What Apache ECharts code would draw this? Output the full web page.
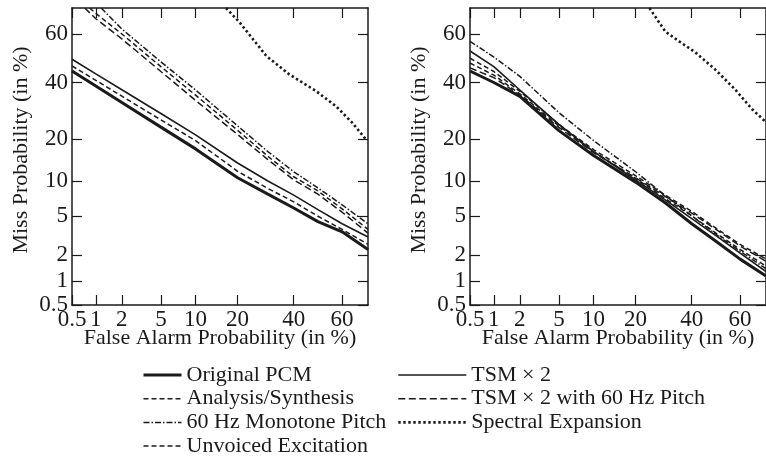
<!DOCTYPE html>
<html>
<head>
<meta charset="utf-8">
<title>DET curves</title>
<script src="https://cdn.jsdelivr.net/npm/echarts@6/dist/echarts.min.js"></script>
<style>
  html, body { margin: 0; padding: 0; background: #fff; }
  #main { width: 766px; height: 458px; }
</style>
</head>
<body>
<div id="main"></div>
<script>
  // axis ticks (in %)
  const TICKS = [0.5, 1, 2, 5, 10, 20, 40, 60]
  const AXIS_MIN = 0.5
  const AXIS_MAX = 70

  // false alarm probabilities (in %) shared by most curves
  const FA = [0.5, 1, 2, 5, 10, 20, 30, 40, 50, 60, 70]

  // left panel
  const leftOriginalPCM = [44.7, 38.6, 32.2, 23.6, 17.2, 10.6, 7.8, 5.9, 4.4, 3.5, 2.3]
  const leftAnalysisSynthesis = [46.8, 40.9, 34.6, 26, 19.5, 11.9, 8.7, 6.7, 4.95, 3.7, 2.6]
  const leftTSM2 = [49.6, 43.5, 37.1, 28.2, 21.2, 13.7, 10, 7.65, 5.7, 4.2, 3.1]
  const leftMonotoneFA = [1.16, 2, 5, 10, 20, 30, 40, 50, 60, 70]
  const leftMonotone = [70, 62, 48.5, 37, 24, 16.5, 11.8, 8.8, 6.3, 4.2]
  const leftUnvoicedFA = [0.84, 1, 2, 5, 10, 20, 30, 40, 50, 60, 70]
  const leftUnvoiced = [70, 68, 60, 46.5, 35, 22.6, 15.3, 10.8, 8.3, 5.8, 3.7]
  const leftTSM60FA = [0.73, 1, 2, 5, 10, 20, 30, 40, 50, 60, 70]
  const leftTSM60 = [70, 66, 58, 44.5, 33, 21.3, 14.5, 10.2, 7.8, 5.4, 3.4]
  const leftSpectralFA = [16.8, 20.6, 29.4, 38.2, 49.2, 57.4, 64.1, 69.6]
  const leftSpectral = [70, 64.6, 51, 43.3, 36.6, 30.9, 25, 19.5]

  // right panel
  const rightOriginalPCM = [44.7, 40, 34.5, 22.5, 15.5, 9.8, 6.5, 4.2, 2.8, 1.8, 1.15]
  const rightAnalysisSynthesis = [48, 43, 35.5, 24, 16.5, 10.5, 7.1, 5.0, 3.4, 2.3, 1.5]
  const rightMonotone = [57, 50.5, 42.5, 28.5, 19.5, 11.8, 7.5, 5.0, 3.3, 2.2, 1.4]
  const rightUnvoiced = [50, 44.5, 36.5, 24.5, 17, 11, 7.6, 5.5, 3.8, 2.6, 1.8]
  const rightTSM2 = [53, 46.5, 37, 24.5, 16.5, 10.2, 6.9, 4.7, 3.2, 2.1, 1.3]
  const rightTSM60 = [46, 42, 35, 23.5, 16.2, 10.6, 7.4, 5.3, 3.7, 2.5, 1.7]
  const rightSpectralFA = [24.3, 29.8, 35, 41.4, 49.6, 57.9, 64.8, 70]
  const rightSpectral = [70, 61, 57, 52.5, 45.4, 37.3, 29.7, 25.2]

  // inverse normal CDF (Acklam) -> DET plots use normal deviate scale
  function probit(p) {
    const a = [-39.69683028665376, 220.9460984245205, -275.9285104469687, 138.357751867269, -30.66479806614716, 2.506628277459239]
    const b = [-54.47609879822406, 161.5858368580409, -155.6989798598866, 66.80131188771972, -13.28068155288572]
    const c = [-0.007784894002430293, -0.3223964580411365, -2.400758277161838, -2.549732539343734, 4.374664141464968, 2.938163982698783]
    const d = [0.007784695709041462, 0.3224671290700398, 2.445134137142996, 3.754408661907416]
    const pl = 0.02425
    let q, r
    if (p < pl) {
      q = Math.sqrt(-2 * Math.log(p))
      return (((((c[0] * q + c[1]) * q + c[2]) * q + c[3]) * q + c[4]) * q + c[5]) / ((((d[0] * q + d[1]) * q + d[2]) * q + d[3]) * q + 1)
    }
    if (p > 1 - pl) {
      q = Math.sqrt(-2 * Math.log(1 - p))
      return -(((((c[0] * q + c[1]) * q + c[2]) * q + c[3]) * q + c[4]) * q + c[5]) / ((((d[0] * q + d[1]) * q + d[2]) * q + d[3]) * q + 1)
    }
    q = p - 0.5
    r = q * q
    return (((((a[0] * r + a[1]) * r + a[2]) * r + a[3]) * r + a[4]) * r + a[5]) * q / (((((b[0] * r + b[1]) * r + b[2]) * r + b[3]) * r + b[4]) * r + 1)
  }

  const z = (pct) => probit(pct / 100)
  const pairs = (fa, miss) => fa.map((f, i) => [z(f), z(miss[i])])
  const TICK_Z = TICKS.map(z)

  const FONT = 'Liberation Serif'
  const INK = '#1a1a1a'

  const STYLES = {
    'Original PCM': { width: 3, type: 'solid' },
    'Analysis/Synthesis': { width: 1.5, type: [5, 3] },
    '60 Hz Monotone Pitch': { width: 1.5, type: [6, 2, 1.5, 2] },
    'Unvoiced Excitation': { width: 1.5, type: [5, 3] },
    'TSM × 2': { width: 1.6, type: 'solid' },
    'TSM × 2 with 60 Hz Pitch': { width: 1.5, type: [7, 3.5] },
    'Spectral Expansion': { width: 2.6, type: [2.4, 2.6] }
  }

  function line(name, data, idx) {
    return {
      name: name,
      type: 'line',
      xAxisIndex: idx,
      yAxisIndex: idx,
      data: data,
      symbol: 'none',
      clip: true,
      animation: false,
      itemStyle: { color: INK },
      lineStyle: { color: INK, width: STYLES[name].width, type: STYLES[name].type }
    }
  }

  function tickLabel(v) {
    const i = TICK_Z.findIndex((t) => Math.abs(t - v) < 1e-9)
    return i < 0 ? '' : String(TICKS[i])
  }

  function xAxis(grid, top) {
    return {
      type: 'value',
      gridIndex: grid,
      position: top ? 'top' : 'bottom',
      min: z(AXIS_MIN),
      max: z(AXIS_MAX),
      name: top ? '' : 'False Alarm Probability (in %)',
      nameLocation: 'middle',
      nameGap: 22,
      nameMoveOverlap: false,
      nameTextStyle: { fontFamily: FONT, fontSize: 22, color: INK },
      axisLine: { show: true, onZero: false, lineStyle: { color: INK, width: 1.5 } },
      axisTick: { show: true, inside: true, length: 10, customValues: TICK_Z, lineStyle: { color: INK, width: 1.2 } },
      axisLabel: { show: !top, margin: 3, customValues: TICK_Z, formatter: tickLabel, fontFamily: FONT, fontSize: 23, color: INK },
      splitLine: { show: false }
    }
  }

  function yAxis(grid, right) {
    return {
      type: 'value',
      gridIndex: grid,
      position: right ? 'right' : 'left',
      min: z(AXIS_MIN),
      max: z(AXIS_MAX),
      name: right ? '' : 'Miss Probability (in %)',
      nameLocation: 'middle',
      nameGap: 40,
      nameMoveOverlap: false,
      nameTextStyle: { fontFamily: FONT, fontSize: 22, color: INK, padding: [0, 0, 0, 13] },
      axisLine: { show: true, onZero: false, lineStyle: { color: INK, width: 1.5 } },
      axisTick: { show: true, inside: true, length: 10, customValues: TICK_Z, lineStyle: { color: INK, width: 1.2 } },
      axisLabel: { show: !right, margin: 4, customValues: TICK_Z, formatter: tickLabel, fontFamily: FONT, fontSize: 23, color: INK },
      splitLine: { show: false }
    }
  }

  // legend: line samples only, no marker
  const legendBase = {
    orient: 'vertical',
    top: 364,
    height: 100,
    padding: 0,
    itemHeight: 14,
    itemGap: 1.7,
    itemStyle: { color: 'rgba(0,0,0,0)', borderWidth: 0, opacity: 0 },
    textStyle: { fontFamily: FONT, fontSize: 22, color: INK }
  }
  const legendItem = (name) => ({
    name: name,
    lineStyle: { width: STYLES[name].width, type: STYLES[name].type, color: INK }
  })

  const chart = echarts.init(document.getElementById('main'))
  chart.setOption({
    backgroundColor: '#ffffff',
    animation: false,
    grid: [
      { left: 72, top: 8, width: 296, height: 297 },
      { left: 470, top: 8, width: 296, height: 297 }
    ],
    xAxis: [xAxis(0, false), xAxis(0, true), xAxis(1, false), xAxis(1, true)],
    yAxis: [yAxis(0, false), yAxis(0, true), yAxis(1, false), yAxis(1, true)],
    legend: [
      Object.assign({}, legendBase, {
        left: 142,
        itemWidth: 38,
        data: ['Original PCM', 'Analysis/Synthesis', '60 Hz Monotone Pitch', 'Unvoiced Excitation'].map(legendItem)
      }),
      Object.assign({}, legendBase, {
        left: 397,
        itemWidth: 68,
        data: ['TSM × 2', 'TSM × 2 with 60 Hz Pitch', 'Spectral Expansion'].map(legendItem)
      })
    ],
    series: [
      // left panel
      line('Spectral Expansion', pairs(leftSpectralFA, leftSpectral), 0),
      line('60 Hz Monotone Pitch', pairs(leftMonotoneFA, leftMonotone), 0),
      line('Unvoiced Excitation', pairs(leftUnvoicedFA, leftUnvoiced), 0),
      line('TSM × 2 with 60 Hz Pitch', pairs(leftTSM60FA, leftTSM60), 0),
      line('TSM × 2', pairs(FA, leftTSM2), 0),
      line('Analysis/Synthesis', pairs(FA, leftAnalysisSynthesis), 0),
      line('Original PCM', pairs(FA, leftOriginalPCM), 0),
      // right panel
      line('Spectral Expansion', pairs(rightSpectralFA, rightSpectral), 2),
      line('60 Hz Monotone Pitch', pairs(FA, rightMonotone), 2),
      line('Unvoiced Excitation', pairs(FA, rightUnvoiced), 2),
      line('TSM × 2 with 60 Hz Pitch', pairs(FA, rightTSM60), 2),
      line('TSM × 2', pairs(FA, rightTSM2), 2),
      line('Analysis/Synthesis', pairs(FA, rightAnalysisSynthesis), 2),
      line('Original PCM', pairs(FA, rightOriginalPCM), 2)
    ]
  })
</script>
</body>
</html>
